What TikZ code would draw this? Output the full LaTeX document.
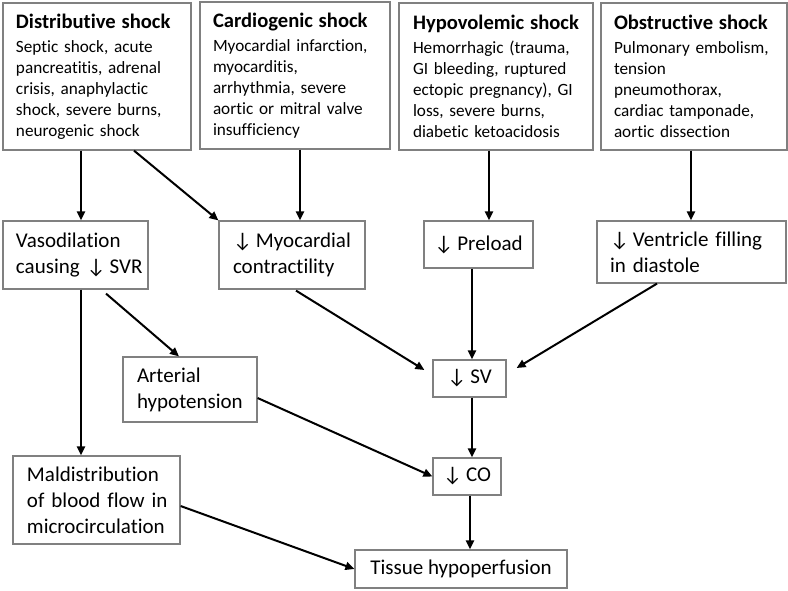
\documentclass[tikz,border=0pt]{standalone}
\usepackage{fontspec}
\setmainfont{Carlito}[Ligatures=NoCommon]
\usetikzlibrary{arrows.meta}
\newcommand{\decr}{↓\kern4pt}
\hyphenpenalty=10000

\begin{document}
\begin{tikzpicture}
      [%%%%%%%%%%%%%%%%%%%%%%%%%%%%%%
      x=1pt,y=-1pt,
      box/.style={rectangle,draw=black!50,line width=1.2pt,inner xsep=13pt,inner ysep=0pt,align=left,
        font=\fontsize{21}{26}\selectfont},
      topbox/.style={box,minimum height=147pt,font=\fontsize{17.2}{21}\selectfont},
      midbox/.style={box,align=center,inner xsep=0pt},
      arr/.style={-{Triangle[length=9pt,width=8pt]},line width=2pt},
      ]%%%%%%%%%%%%%%%%%%%%%%%%%%%%%%

      \useasboundingbox (0,0) rectangle (788,590);

      % causes
      \node[topbox,text width=162pt] (dist) at (97,76.5)
        {{\fontsize{20.6}{24}\selectfont\bfseries Distributive shock}\\[3pt]
         Septic shock, acute\\ pancreatitis, adrenal\\ crisis, anaphylactic\\ shock, severe burns,\\ neurogenic shock};
      \node[topbox,text width=164pt] (card) at (295,75.5)
        {{\fontsize{20.6}{24}\selectfont\bfseries Cardiogenic shock}\\[3pt]
         Myocardial infarction,\\ myocarditis,\\ arrhythmia, severe\\ aortic or mitral valve\\ insufficiency};
      \node[topbox,text width=166pt,inner xsep=14pt] (hypo) at (496,76.5)
        {{\fontsize{20.6}{24}\selectfont\bfseries Hypovolemic~shock}\\[3pt]
         Hemorrhagic (trauma,\\ GI bleeding, ruptured\\ ectopic pregnancy), GI\\ loss, severe burns,\\ diabetic ketoacidosis};
      \node[topbox,text width=160pt] (obst) at (694,76.5)
        {{\fontsize{20.6}{24}\selectfont\bfseries Obstructive shock}\\[3pt]
         Pulmonary embolism,\\ tension\\ pneumothorax,\\ cardiac tamponade,\\ aortic dissection};

      % mechanisms
      \node[box,text width=119pt,minimum height=68pt] (vaso) at (75.5,255) {Vasodilation\\ causing~\decr SVR};
      \node[box,text width=118pt,inner xsep=14pt,minimum height=68pt] (myo) at (292,255) {\decr Myocardial\\ contractility};
      \node[midbox,minimum width=109pt,minimum height=47pt] (pre) at (478.5,244.5) {\decr Preload};
      \node[box,text width=163pt,minimum height=62pt] (vent) at (691.5,252) {\decr Ventricle~filling\\ in diastole};

      \node[box,text width=106pt,inner xsep=14pt,minimum height=65pt] (art) at (190,389.5) {Arterial\\ hypotension};
      \node[midbox,minimum width=73pt,minimum height=37pt] (sv) at (469.5,378.5) {\decr SV};
      \node[midbox,minimum width=68pt,minimum height=37pt] (co) at (467,476.5) {\decr CO};
      \node[box,text width=139pt,inner xsep=14pt,minimum height=88pt] (mal) at (96.5,500)
        {Maldistribution\\ of~blood~flow~in\\ microcirculation};
      \node[midbox,minimum width=212pt,minimum height=38pt] (tis) at (461,569) {Tissue hypoperfusion};

      % arrows
      \draw[arr] ([xshift=-16pt]dist.south) -- ([xshift=5.5pt]vaso.north);
      \draw[arr] ([xshift=37pt]dist.south) -- (myo.north west);
      \draw[arr] ([xshift=5pt]card.south) -- ([xshift=8pt]myo.north);
      \draw[arr] ([xshift=-7pt]hypo.south) -- ([xshift=10.5pt]pre.north);
      \draw[arr] ([xshift=-3pt]obst.south) -- ([xshift=-0.5pt]vent.north);

      \draw[arr] ([xshift=5.5pt]vaso.south) -- ([xshift=-15.5pt]mal.north);
      \draw[arr] ([xshift=30.5pt,yshift=-4pt]vaso.south) -- ([xshift=-11pt]art.north);
      \draw[arr] ([xshift=4pt,yshift=-1pt]myo.south) -- ([xshift=-8pt,yshift=8.5pt]sv.west);
      \draw[arr] ([xshift=-6.5pt]pre.south) -- ([xshift=2.5pt]sv.north);
      \draw[arr] ([xshift=-34.5pt]vent.south) -- ([xshift=10pt,yshift=10.5pt]sv.east);

      \draw[arr] ([yshift=-8.5pt]art.east) -- (co.west);
      \draw[arr] ([xshift=2.5pt]sv.south) -- ([xshift=5pt]co.north);
      \draw[arr] ([yshift=-6pt]mal.east) -- (tis.west);
      \draw[arr] ([xshift=3pt]co.south) -- ([xshift=9pt]tis.north);
    \end{tikzpicture}
\end{document}
